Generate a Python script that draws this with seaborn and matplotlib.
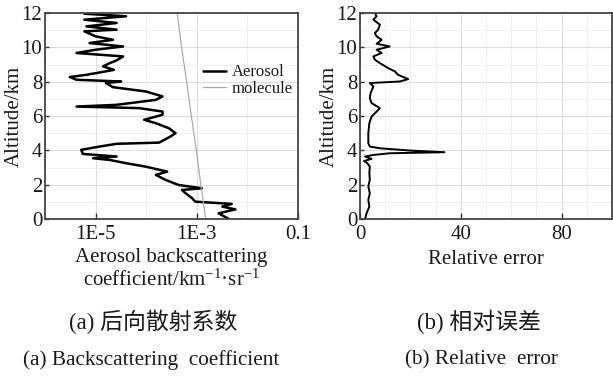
import matplotlib
matplotlib.use("Agg")
import matplotlib.pyplot as plt
import pandas as pd
import seaborn as sns
from matplotlib.ticker import FixedLocator, MultipleLocator, NullFormatter

# 에어로졸 후방산란 계수 프로파일 (고도 km, 계수 km^-1 sr^-1)
aer_alt = [0.00, 0.33, 0.56, 0.72, 0.88, 1.01, 1.21, 1.50, 1.69, 1.79, 1.98, 2.28,
           2.57, 2.76, 3.05, 3.25, 3.44, 3.54, 3.64, 3.79, 4.03, 4.22, 4.38, 4.45,
           4.80, 5.00, 5.29, 5.58, 5.78, 6.07, 6.26, 6.46, 6.55, 6.65, 6.94, 7.14,
           7.43, 7.68, 7.92, 8.01, 8.11, 8.27, 8.40, 8.60, 8.69, 8.89, 9.08, 9.24,
           9.47, 9.67, 9.86, 10.05, 10.25, 10.44, 10.64, 10.93, 11.03, 11.22, 11.42,
           11.61, 11.81, 11.96]
aer_beta = [4.3e-3, 2.7e-3, 5.8e-3, 3.2e-3, 4.9e-3, 9.3e-4, 8.1e-4, 6.0e-4, 5.1e-4,
            1.26e-3, 4.4e-4, 2.4e-4, 1.55e-4, 2.6e-4, 9.8e-5, 4.0e-5, 1.9e-5, 8.9e-6,
            2.6e-5, 5.6e-6, 5.2e-6, 1.2e-5, 2.6e-5, 1.8e-4, 3.0e-4, 3.8e-4, 2.8e-4,
            1.55e-4, 9.1e-5, 2.1e-4, 2.1e-4, 7.2e-5, 4.2e-6, 2.6e-5, 1.55e-4, 2.1e-4,
            9.8e-5, 2.2e-5, 1.6e-5, 3.2e-5, 4.2e-6, 3.1e-6, 6.6e-6, 1.6e-5, 2.3e-5,
            1.4e-5, 1.9e-5, 2.6e-5, 3.5e-5, 4.2e-6, 1.0e-5, 3.5e-5, 7.6e-6, 2.2e-5,
            1.0e-5, 6.0e-6, 2.6e-5, 6.6e-6, 2.6e-5, 6.0e-6, 4.0e-5, 6.0e-6]

# 분자 후방산란
mol_alt = [0, 2, 4, 6, 8, 10, 12]
mol_beta = [1.5e-3, 1.2e-3, 9.8e-4, 7.8e-4, 6.3e-4, 5.0e-4, 4.1e-4]

# 상대오차 프로파일
err_alt = [0.00, 0.33, 0.72, 1.11, 1.50, 1.89, 2.28, 2.66, 3.05, 3.25, 3.38, 3.50,
           3.64, 3.73, 3.83, 3.89, 3.99, 4.12, 4.22, 4.41, 5.00, 5.58, 5.97, 6.26,
           6.46, 6.75, 7.04, 7.33, 7.72, 7.92, 8.01, 8.15, 8.40, 8.60, 8.79, 9.08,
           9.28, 9.47, 9.67, 9.86, 10.05, 10.21, 10.44, 10.64, 10.83, 11.03, 11.32,
           11.61, 11.81, 12.00]
err_val = [2.0, 2.6, 3.7, 3.3, 3.9, 3.3, 3.9, 3.7, 3.9, 2.9, 1.6, 4.6, 2.0, 5.3,
           11.8, 33.5, 19.7, 7.9, 3.9, 3.3, 3.3, 3.7, 4.6, 6.6, 7.9, 4.6, 3.9, 4.2,
           5.3, 3.9, 15.8, 19.1, 15.1, 13.8, 11.2, 7.9, 5.9, 5.3, 8.6, 6.6, 11.8,
           6.6, 8.6, 6.6, 5.9, 7.2, 7.9, 5.3, 6.6, 5.9]

left_ticks = [1e-5, 1e-3, 1e-1]
left_ticklabels = ["1E-5", "1E-3", "0.1"]
right_ticks = [0, 40, 80]

sns.set_style("ticks")
plt.rcParams["font.family"] = ["Liberation Serif", "Noto Sans CJK SC"]
plt.rcParams["mathtext.fontset"] = "custom"
plt.rcParams["mathtext.rm"] = "Liberation Serif"
plt.rcParams["mathtext.it"] = "Liberation Serif:italic"
plt.rcParams["font.size"] = 15
plt.rcParams["text.color"] = "#1a1a1a"
plt.rcParams["axes.labelcolor"] = "#1a1a1a"
plt.rcParams["xtick.color"] = "#333333"
plt.rcParams["ytick.color"] = "#333333"
plt.rcParams["xtick.labelcolor"] = "#1a1a1a"
plt.rcParams["ytick.labelcolor"] = "#1a1a1a"

aer_df = pd.DataFrame({"alt": aer_alt, "beta": aer_beta})
mol_df = pd.DataFrame({"alt": mol_alt, "beta": mol_beta})
err_df = pd.DataFrame({"alt": err_alt, "err": err_val})

W, H = 613, 376
fig = plt.figure(figsize=(W / 100, H / 100), dpi=100)
ax1 = fig.add_axes([45 / W, 1 - 219 / H, 253 / W, 206 / H])
ax2 = fig.add_axes([360 / W, 1 - 219 / H, 252 / W, 206 / H])

# -----------------------------
# (a) 후방산란 계수
# -----------------------------
sns.lineplot(data=aer_df, x="beta", y="alt", sort=False, estimator=None,
             color="black", lw=1.8, label="Aerosol", ax=ax1)
sns.lineplot(data=mol_df, x="beta", y="alt", sort=False, estimator=None,
             color="#aaaaaa", lw=0.9, label="molecule", ax=ax1)
ax1.set_xscale("log")
ax1.set_xlim(1e-6, 1e-1)
ax1.set_xticks(left_ticks, left_ticklabels)
ax1.xaxis.set_minor_locator(FixedLocator([1e-6, 1e-4, 1e-2]))
ax1.xaxis.set_minor_formatter(NullFormatter())
ax1.set_xlabel("Aerosol backscattering\ncoefficient/km$^{-1}$·sr$^{-1}$",
               linespacing=1.2, labelpad=3)
ax1.legend(loc="upper left", bbox_to_anchor=(0.625, 0.75), frameon=False,
           fontsize=12, handlelength=1.4, handletextpad=0.3, labelspacing=0.05,
           borderpad=0, borderaxespad=0)

# -----------------------------
# (b) 상대오차
# -----------------------------
sns.lineplot(data=err_df, x="err", y="alt", sort=False, estimator=None,
             color="black", lw=1.4, ax=ax2)
ax2.set_xlim(0, 100)
ax2.set_xticks(right_ticks)
ax2.xaxis.set_minor_locator(MultipleLocator(10))
ax2.set_xlabel("Relative error", labelpad=5)

for ax in (ax1, ax2):
    ax.set_ylim(0, 12)
    ax.yaxis.set_major_locator(MultipleLocator(2))
    ax.yaxis.set_minor_locator(MultipleLocator(1))
    ax.set_ylabel("Altitude/km")
    ax.grid(which="major", color="#dddddd", lw=0.8)
    ax.grid(which="minor", color="#efefef", lw=0.7)
    ax.set_axisbelow(True)
    ax.tick_params(axis="x", which="major", direction="in", length=4, width=1, pad=4)
    ax.tick_params(axis="y", which="major", direction="in", length=3, width=1, pad=2)
    ax.tick_params(which="minor", length=0)
    for sp in ax.spines.values():
        sp.set_visible(True)
        sp.set_color("#444444")
        sp.set_linewidth(1.3)

ax1.yaxis.set_label_coords(-0.085, 0.5)
ax2.yaxis.set_label_coords(-0.083, 0.5)

# 그림 캡션
fig.text(153 / W, 1 - 322 / H, "(a) 后向散射系数", ha="center", va="center", fontsize=16.5)
fig.text(479 / W, 1 - 322 / H, "(b) 相对误差", ha="center", va="center", fontsize=16.5)
fig.text(151 / W, 1 - 360 / H, "(a) Backscattering  coefficient", ha="center",
         va="center", fontsize=15.3)
fig.text(481 / W, 1 - 360 / H, "(b) Relative  error", ha="center", va="center",
         fontsize=15.3)

fig.savefig("out.png", dpi=100, facecolor="white")
